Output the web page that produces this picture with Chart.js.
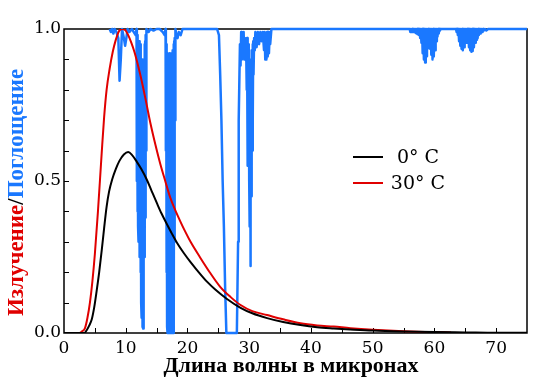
<!DOCTYPE html>
<html><head><meta charset="utf-8">
<script src="https://cdn.jsdelivr.net/npm/chart.js@4/dist/chart.umd.min.js"></script>
<style>html,body{margin:0;padding:0;background:#fff;overflow:hidden}</style>
</head><body>
<canvas id="c" width="538" height="379"></canvas>
<script>
// ---- data ----
const xTicks = [0, 10, 20, 30, 40, 50, 60, 70];
const yTicks = [0.0, 0.5, 1.0];
const seriesLabels = ['0° C', '30° C'];
const xTitle = 'Длина волны в микронах';
const yTitleParts = ['Излучение', '/', 'Поглощение'];

const x0C = [0, 3.3, 3.7, 4.1, 4.5, 4.9, 5.3, 5.7, 6.1, 6.5, 6.9, 7.3, 7.8, 8.4, 9.0, 9.7, 10.4, 11.0, 11.8, 12.5, 13.4, 14.2, 15.05, 15.8, 16.7, 17.5, 18.3, 19.4, 20.5, 21.5, 23.2, 24.5, 26.4, 28.6, 30.5, 32.9, 35.5, 38.3, 41, 43.7, 47, 50, 55, 60, 65, 70, 75];
const y0C = [0, 0, 0.01, 0.025, 0.045, 0.085, 0.14, 0.2, 0.27, 0.345, 0.415, 0.465, 0.505, 0.54, 0.567, 0.587, 0.595, 0.586, 0.563, 0.54, 0.505, 0.467, 0.427, 0.393, 0.357, 0.326, 0.297, 0.263, 0.233, 0.208, 0.168, 0.143, 0.112, 0.083, 0.065, 0.049, 0.036, 0.026, 0.019, 0.015, 0.011, 0.008, 0.005, 0.003, 0.002, 0.001, 0.001];

const x30C = [0, 2.5, 2.9, 3.4, 3.8, 4.2, 4.6, 5.0, 5.5, 6.1, 6.5, 6.9, 7.4, 7.9, 8.4, 8.9, 9.4, 9.9, 10.4, 10.9, 11.4, 12.35, 13.2, 14.0, 14.8, 15.6, 16.4, 17.2, 18.0, 18.8, 19.6, 20.5, 22.1, 23.6, 25.3, 27.0, 28.6, 30.5, 32.9, 35.5, 38.3, 41, 43.7, 46.4, 50, 55, 60, 62.7];
const y30C = [0, 0, 0.005, 0.016, 0.05, 0.1, 0.17, 0.26, 0.4, 0.59, 0.71, 0.8, 0.87, 0.925, 0.965, 0.993, 1.0, 0.997, 0.98, 0.955, 0.925, 0.85, 0.77, 0.69, 0.62, 0.556, 0.5, 0.446, 0.405, 0.369, 0.335, 0.3, 0.247, 0.2, 0.152, 0.118, 0.092, 0.072, 0.059, 0.045, 0.032, 0.025, 0.021, 0.016, 0.011, 0.006, 0.003, 0.002];

// atmospheric transmission (absorption spectrum), dense line structure
const xAbs = [
  7.4, 7.6, 7.8, 8.0, 8.2, 8.5, 8.8, 9.0, 9.2, 9.4, 9.7, 9.9, 10.1, 10.3, 10.6, 11.0, 11.3, 11.6,
  11.75, 11.8, 11.85, 11.9, 11.95, 12.0, 12.05, 12.1, 12.15, 12.2, 12.25, 12.3, 12.35, 12.4, 12.45, 12.5, 12.55, 12.6, 12.65, 12.7, 12.75, 12.8, 12.85, 12.9, 12.95, 13.0, 13.05, 13.1, 13.15, 13.2, 13.25, 13.3, 13.35,
  13.7, 14.0, 14.5, 15.0, 15.5, 16.0, 16.3,
  16.45, 16.5, 16.55, 16.6, 16.65, 16.7, 16.75, 16.8, 16.85, 16.9, 16.95, 17.0, 17.05, 17.1, 17.15, 17.2, 17.25, 17.3, 17.35, 17.4, 17.45, 17.5, 17.55, 17.6, 17.65, 17.7, 17.75, 17.8, 17.85, 17.9, 17.95, 18.0, 18.05,
  18.2, 18.4, 18.6, 18.9, 19.2, 19.5,
  20, 21, 22, 23, 24, 24.8, 25.1,
  25.3, 25.5, 25.7, 25.9, 26.1, 26.3, 26.6, 27.0, 27.4, 27.8, 28.0, 28.2, 28.3, 28.5,
  28.6, 28.7, 28.8, 28.9, 29.0, 29.1, 29.2, 29.3, 29.4, 29.5,
  29.6, 29.65, 29.7, 29.75, 29.8, 29.85, 29.9, 29.95, 30.0, 30.05, 30.1, 30.15, 30.2, 30.25, 30.3, 30.35, 30.4, 30.45, 30.5, 30.55, 30.6, 30.65, 30.7, 30.8,
  30.9, 31.0, 31.2, 31.4, 31.6, 31.8, 32.0, 32.2, 32.4, 32.5, 32.6, 32.7, 32.8, 32.9, 33.0, 33.1, 33.2, 33.3, 33.4, 33.6,
  35, 40, 45, 50, 55,
  56.0, 56.1, 56.2, 56.3, 56.4, 56.5, 56.6, 56.7, 56.8, 56.9, 57.0, 57.1, 57.2, 57.3, 57.4, 57.5, 57.6, 57.7, 57.8, 57.9, 58.0, 58.1, 58.2, 58.3, 58.4, 58.5, 58.6, 58.7, 58.8, 58.9, 59.0, 59.1, 59.2, 59.3, 59.4, 59.5, 59.6, 59.7, 59.8, 59.9, 60.0, 60.1, 60.2, 60.3, 60.4, 60.5, 60.6, 60.7, 60.8, 60.9, 61.0,
  62.0, 63.0,
  63.5, 63.6, 63.7, 63.8, 63.9, 64.0, 64.1, 64.2, 64.3, 64.4, 64.5, 64.6, 64.7, 64.8, 64.9, 65.0, 65.1, 65.2, 65.3, 65.4, 65.5, 65.6, 65.7, 65.8, 65.9, 66.0, 66.1, 66.2, 66.3, 66.4, 66.5, 66.6, 66.7, 66.8, 66.9, 67.0, 67.1, 67.2, 67.3, 67.4, 67.5, 67.6, 67.7, 67.8, 67.9, 68.0, 68.2, 68.4, 68.7,
  70, 75];
const yAbs = [
  1.0, 0.99, 1.0, 0.985, 1.0, 0.99, 0.97, 0.83, 0.9, 1.0, 0.97, 0.945, 0.97, 1.0, 0.99, 1.0, 0.99, 0.98,
  1.0, 0.5, 0.98, 0.4, 0.97, 0.35, 0.95, 0.3, 0.96, 0.28, 0.94, 0.25, 0.95, 0.2, 0.9, 0.1, 0.85, 0.05, 0.8, 0.02, 0.9, 0.015, 0.85, 0.08, 0.9, 0.25, 0.95, 0.33, 0.96, 0.38, 0.98, 0.6, 1.0,
  0.99, 1.0, 0.995, 1.0, 1.0, 0.99, 0.98,
  1.0, 0.6, 0.95, 0.2, 0.93, 0.02, 0.92, 0.0, 0.9, 0.0, 0.91, 0.0, 0.9, 0.0, 0.92, 0.0, 0.91, 0.0, 0.9, 0.0, 0.92, 0.0, 0.9, 0.0, 0.93, 0.0, 0.95, 0.02, 0.96, 0.3, 0.97, 0.7, 1.0,
  0.98, 0.97, 0.99, 0.98, 1.0, 1.0,
  1.0, 1.0, 1.0, 1.0, 1.0, 1.0, 0.98,
  0.85, 0.7, 0.5, 0.35, 0.15, 0.0, 0.0, 0.0, 0.0, 0.0, 0.0, 0.3, 0.7, 0.95,
  0.88, 0.99, 0.9, 0.98, 0.91, 0.99, 0.9, 0.97, 0.92, 0.95,
  0.8, 0.97, 0.65, 0.96, 0.55, 0.95, 0.58, 0.94, 0.5, 0.9, 0.35, 0.85, 0.22, 0.8, 0.45, 0.9, 0.55, 0.93, 0.6, 0.95, 0.7, 0.96, 0.85, 0.97,
  0.93, 0.99, 0.94, 0.99, 0.95, 0.99, 0.96, 0.99, 0.93, 0.99, 0.9, 0.98, 0.9, 0.99, 0.91, 0.99, 0.92, 0.98, 0.95, 1.0,
  1.0, 1.0, 1.0, 1.0, 1.0,
  1.0, 0.99, 1.0, 0.99, 1.0, 0.99, 1.0, 0.99, 1.0, 0.988, 1.0, 0.985, 1.0, 0.983, 1.0, 0.98, 1.0, 0.97, 1.0, 0.955, 1.0, 0.92, 1.0, 0.9, 1.0, 0.89, 1.0, 0.91, 1.0, 0.935, 1.0, 0.953, 1.0, 0.935, 1.0, 0.915, 1.0, 0.9, 1.0, 0.91, 1.0, 0.93, 1.0, 0.96, 1.0, 0.975, 1.0, 0.985, 1.0, 0.995, 1.0,
  1.0, 1.0,
  1.0, 0.99, 1.0, 0.98, 1.0, 0.96, 1.0, 0.945, 1.0, 0.935, 1.0, 0.93, 1.0, 0.94, 1.0, 0.955, 1.0, 0.962, 1.0, 0.955, 1.0, 0.94, 1.0, 0.93, 1.0, 0.925, 1.0, 0.928, 1.0, 0.94, 1.0, 0.955, 1.0, 0.965, 1.0, 0.97, 1.0, 0.98, 1.0, 0.985, 1.0, 0.99, 1.0, 0.99, 1.0, 0.995, 1.0, 0.995, 1.0,
  1.0, 1.0];

// ---- styles ----
const BLACK = '#000000', RED = '#e00000', BLUE = '#1a78ff';
const SERIF = "'DejaVu Serif', serif";
const X_TITLE_FONT = "bold 22px 'Liberation Serif', 'Times New Roman', serif";
const Y_TITLE_FONT = "bold 23px 'Liberation Serif', 'Times New Roman', serif";
const zip = (xs, ys) => xs.map((x, i) => ({x, y: ys[i]}));

const decor = {
  id: 'decor',
  beforeDatasetsDraw(chart) {
    const {ctx, chartArea: a, scales: {x, y}} = chart;
    ctx.save();
    ctx.strokeStyle = BLACK;
    ctx.lineWidth = 1.5;
    ctx.strokeRect(a.left, a.top, a.right - a.left, a.bottom - a.top);
    ctx.lineWidth = 1;
    ctx.beginPath();
    for (let v = 5; v < 75; v += 5) {
      const px = Math.round(x.getPixelForValue(v)) + 0.5;
      ctx.moveTo(px, a.bottom); ctx.lineTo(px, a.bottom - 5);
    }
    for (let k = 1; k < 10; k++) {
      const py = Math.round(y.getPixelForValue(k / 10)) + 0.5;
      ctx.moveTo(a.left, py); ctx.lineTo(a.left + 5, py);
    }
    ctx.stroke();
    ctx.restore();
  },
  afterDraw(chart) {
    const {ctx} = chart;
    // x title
    ctx.save();
    ctx.font = X_TITLE_FONT;
    ctx.fillStyle = BLACK;
    ctx.textAlign = 'center';
    ctx.textBaseline = 'alphabetic';
    ctx.fillText(xTitle, 291, 372);
    ctx.restore();
    // y title, multi-coloured
    ctx.save();
    ctx.font = Y_TITLE_FONT;
    const colors = [RED, BLACK, BLUE];
    const total = yTitleParts.reduce((s, t) => s + ctx.measureText(t).width, 0);
    ctx.translate(23, 192.5);
    ctx.rotate(-Math.PI / 2);
    ctx.textBaseline = 'alphabetic';
    ctx.textAlign = 'left';
    let cx = -total / 2;
    yTitleParts.forEach((t, i) => {
      ctx.fillStyle = colors[i];
      ctx.fillText(t, cx, 0);
      cx += ctx.measureText(t).width;
    });
    ctx.restore();
    // legend
    ctx.save();
    const items = [[BLACK, 157], [RED, 183]];
    ctx.font = "19px " + SERIF;
    ctx.textAlign = 'center';
    ctx.textBaseline = 'middle';
    items.forEach(([col, py], i) => {
      ctx.strokeStyle = col; ctx.lineWidth = 2;
      ctx.beginPath(); ctx.moveTo(353, py); ctx.lineTo(383, py); ctx.stroke();
      ctx.fillStyle = BLACK;
      ctx.fillText(seriesLabels[i], 418, py + 1);
    });
    ctx.restore();
  }
};

new Chart(document.getElementById('c'), {
  type: 'line',
  data: {
    datasets: [
      {label: seriesLabels[0], data: zip(x0C, y0C), borderColor: BLACK, borderWidth: 2, pointRadius: 0, cubicInterpolationMode: 'monotone', order: 1},
      {label: seriesLabels[1], data: zip(x30C, y30C), borderColor: RED, borderWidth: 2, pointRadius: 0, cubicInterpolationMode: 'monotone', order: 2},
      {label: 'Поглощение', data: zip(xAbs, yAbs), borderColor: BLUE, borderWidth: 2.5, borderJoinStyle: 'round', pointRadius: 0, tension: 0, order: 3, clip: 2}
    ]
  },
  options: {
    responsive: false,
    animation: false,
    devicePixelRatio: 1,
    layout: {padding: {top: 29, right: 11, left: 0, bottom: 0}},
    plugins: {legend: {display: false}, tooltip: {enabled: false}},
    scales: {
      x: {
        type: 'linear', min: 0, max: 75,
        afterBuildTicks: s => { s.ticks = xTicks.map(v => ({value: v})); },
        afterFit: s => { s.height = 46; },
        grid: {display: false, drawTicks: false},
        border: {display: false},
        ticks: {color: BLACK, font: {family: SERIF, size: 17}, padding: 5, maxRotation: 0, autoSkip: false}
      },
      y: {
        type: 'linear', min: 0, max: 1,
        afterBuildTicks: s => { s.ticks = yTicks.map(v => ({value: v})); },
        afterFit: s => { s.width = 64; },
        grid: {display: false, drawTicks: false},
        border: {display: false},
        ticks: {color: BLACK, font: {family: SERIF, size: 17}, padding: 3, callback: v => Number(v).toFixed(1)}
      }
    }
  },
  plugins: [decor]
});
</script>
</body></html>
